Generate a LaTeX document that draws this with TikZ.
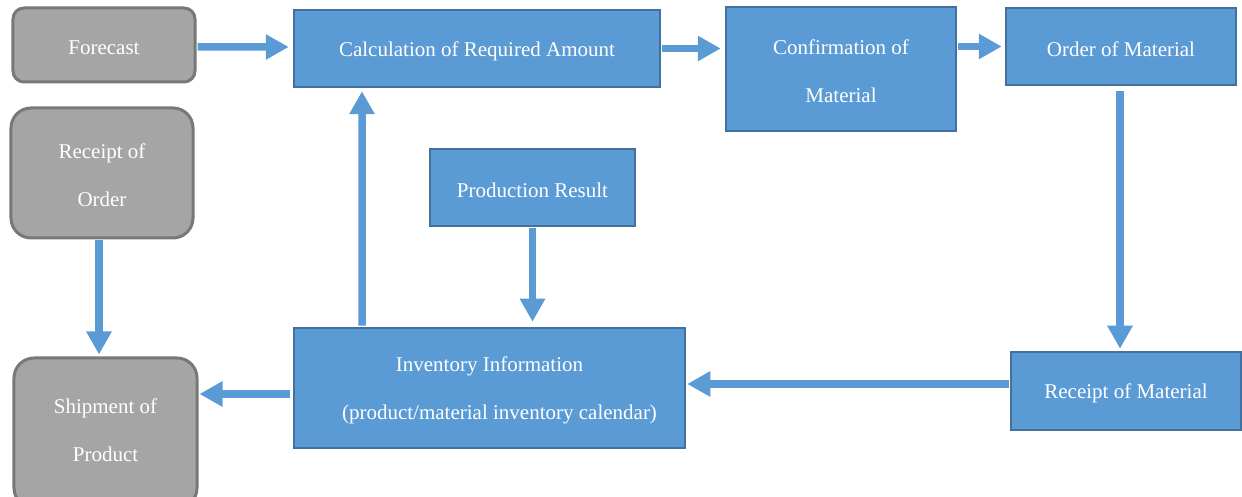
\documentclass[tikz,border=0pt]{standalone}
\usepackage{fontspec}
\setmainfont{Liberation Serif}
\usetikzlibrary{arrows.meta}
\definecolor{bluefill}{HTML}{5B9BD5}
\definecolor{blueline}{HTML}{41719C}
\definecolor{grayfill}{HTML}{A5A5A5}
\definecolor{grayline}{HTML}{787878}
\newcommand{\onestrut}{\rule{0pt}{20bp}}
\newcommand{\twostrut}{\rule{0pt}{20bp}}
\newcommand{\lowstrut}{\rule[-12bp]{0pt}{12bp}}
\tikzset{
  base/.style={inner sep=0pt, align=center, text=white,
    font=\fontsize{21bp}{48bp}\selectfont},
  bluebox/.style={base, draw=blueline, fill=bluefill, line width=2.5bp},
  graybox/.style={base, draw=grayline, fill=grayfill, line width=3bp},
  arr/.style={draw=bluefill, line width=7.5bp,
    -{Triangle[length=23bp,width=24bp]}},
}
\begin{document}
\begin{tikzpicture}[x=1bp,y=-1bp]
\useasboundingbox (0,0) rectangle (1242,497);
% boxes
\node[graybox, rounded corners=11bp, minimum width=182bp, minimum height=74bp] (fc) at (104,45) {\onestrut Forecast};
\node[graybox, rounded corners=20bp, minimum width=182bp, minimum height=130bp] (ro) at (102,173) {\twostrut Receipt of\\Order};
\node[graybox, rounded corners=20bp, minimum width=183bp, minimum height=150bp] (sp) at (105.5,433) {\twostrut Shipment of\\Product\lowstrut};
\node[bluebox, minimum width=366bp, minimum height=77bp] (calc) at (477,48.5) {\onestrut Calculation of Required Amount};
\node[bluebox, minimum width=230bp, minimum height=124bp] (conf) at (841,69) {\twostrut Confirmation of\\Material};
\node[bluebox, minimum width=230bp, minimum height=77bp] (om) at (1121,46.5) {\onestrut Order of Material};
\node[bluebox, minimum width=205bp, minimum height=77bp] (pr) at (532.5,187.5) {\onestrut Production Result};
\node[bluebox, minimum width=391bp, minimum height=120bp] (inv) at (489.5,388) {\twostrut Inventory Information\\\hspace*{20bp}(product/material inventory calendar)};
\node[bluebox, minimum width=230bp, minimum height=78bp] (rm) at (1126,391) {\onestrut Receipt of Material};
% connectors
\draw[arr, shorten <=1bp, shorten >=4bp] ([yshift=-2bp]fc.east) -- ([yshift=1.5bp]calc.west);
\draw[arr, shorten <=1bp, shorten >=4bp] (calc.east) -- (calc.east -| conf.west);
\draw[arr, shorten <=1bp, shorten >=3bp] (conf.east |- om.west) -- (om.west);
\draw[arr, shorten <=5bp, shorten >=2bp] ([xshift=-1bp]om.south) -- ([xshift=-1bp]om.south |- rm.north);
\draw[arr, shorten <=1bp, shorten >=1bp] ([yshift=7bp]rm.west) -- ([yshift=7bp]rm.west -| inv.east);
\draw[arr, shorten <=1bp, shorten >=5bp] (pr.south) -- (pr.south |- inv.north);
\draw[arr, shorten <=1bp, shorten >=3bp] ([xshift=-127.5bp]inv.north) -- ([xshift=-115bp]calc.south);
\draw[arr, shorten <=3bp, shorten >=1bp] ([yshift=-6bp]inv.west) -- ([yshift=-6bp]inv.west -| sp.east);
\draw[arr, shorten <=1bp, shorten >=2bp] ([xshift=-3bp]ro.south) -- ([xshift=-3bp]ro.south |- sp.north);
\end{tikzpicture}
\end{document}
